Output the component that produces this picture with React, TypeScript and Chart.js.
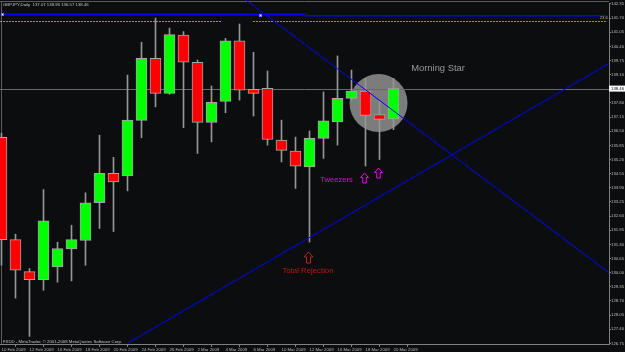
import React, { useEffect, useRef } from 'react';
import { Chart, registerables } from 'chart.js';

Chart.register(...registerables);

// ---------- data ----------
const symbol = 'GBPJPY,Daily';
const dates = [
  '10 Feb 2009', '11 Feb 2009', '12 Feb 2009', '13 Feb 2009', '16 Feb 2009', '17 Feb 2009',
  '18 Feb 2009', '19 Feb 2009', '20 Feb 2009', '23 Feb 2009', '24 Feb 2009', '25 Feb 2009',
  '26 Feb 2009', '27 Feb 2009', '2 Mar 2009', '3 Mar 2009', '4 Mar 2009', '5 Mar 2009',
  '6 Mar 2009', '9 Mar 2009', '10 Mar 2009', '11 Mar 2009', '12 Mar 2009', '13 Mar 2009',
  '16 Mar 2009', '17 Mar 2009', '18 Mar 2009', '19 Mar 2009', '20 Mar 2009',
];
const opens = [
  136.22, 131.52, 130.05, 129.68, 130.26, 131.09, 131.48, 133.22, 134.56, 134.45,
  137.0, 139.85, 138.24, 140.92, 139.67, 136.91, 137.87, 140.66, 138.43, 138.47,
  136.09, 135.59, 134.86, 136.17, 136.93, 138.01, 138.35, 137.27, 137.07,
];
const highs = [
  136.41, 131.77, 130.19, 133.82, 131.4, 132.18, 133.67, 136.32, 135.3, 139.08,
  140.59, 141.7, 141.24, 141.08, 139.77, 138.58, 140.77, 141.43, 140.13, 139.27,
  137.01, 136.23, 136.51, 138.31, 139.96, 139.31, 138.93, 137.89, 138.93,
];
const lows = [
  130.34, 128.83, 127.07, 129.19, 129.56, 129.62, 130.34, 132.03, 131.89, 133.76,
  136.2, 137.62, 138.2, 136.66, 135.48, 136.01, 137.35, 137.93, 137.2, 135.86,
  135.09, 133.87, 131.41, 135.25, 135.86, 137.93, 134.9, 135.2, 136.57,
];
const closes = [
  131.52, 130.11, 129.68, 132.38, 131.11, 131.52, 133.21, 134.56, 134.17, 137.01,
  139.85, 138.24, 140.94, 139.67, 136.91, 137.83, 140.66, 138.39, 138.24, 136.12,
  135.62, 134.9, 136.17, 136.98, 138.01, 138.35, 137.23, 137.04, 138.46,
];
const xLabelIndex = [0, 2, 4, 6, 8, 10, 12, 14, 16, 18, 20, 22, 24, 26, 28];
const yTicks = [
  126.75, 127.4, 128.05, 128.7, 129.35, 130.0, 130.65, 131.3, 131.95, 132.6, 133.25,
  133.9, 134.55, 135.2, 135.85, 136.5, 137.15, 137.8, 138.45, 139.1, 139.75, 140.4,
  141.05, 141.7, 142.35,
];
const lastPrice = 138.46;
const fibLevel = 141.553;
const fibLabel = '23.6';
const topLineLeft = 141.865;
const topLineRight = 141.81;
const trendDown = [{ x: 17.46, y: 142.53 }, { x: 43.39, y: 130.0 }];
const trendUp = [{ x: 9.04, y: 126.767 }, { x: 43.39, y: 139.613 }];
const circleAt = { x: 26.93, y: 137.8 };
const redArrow = { x: 21.93, y: 130.95 };
const magentaArrows = [{ x: 25.93, y: 134.58 }, { x: 26.93, y: 134.81 }];
const notes = [
  { text: 'Total Rejection', x: 21.89, y: 130.076, color: '#b81c1c', size: 7.8 },
  { text: 'Tweezers', x: 23.93, y: 134.26, color: '#d414d4', size: 7.6 },
  { text: 'Morning Star', x: 31.18, y: 139.41, color: '#9a9a9a', size: 9.4 },
];
const copyright = 'FXDD - MetaTrader, \u00A9 2001-2008 MetaQuotes Software Corp.';

// ---------- styles ----------
const BG = '#0b0d0f';
const AXIS = '#808080';
const SMALL_FONT = '4.3px "Liberation Sans", Arial, sans-serif';
const TXT = '#bdbdbd';

const overlay = {
  id: 'mt4overlay',
  beforeDraw(chart: any) {
    const { ctx, width, height } = chart;
    ctx.save();
    ctx.fillStyle = BG;
    ctx.fillRect(0, 0, width, height);
    ctx.restore();
  },
  beforeDatasetsDraw(chart: any) {
    const { ctx, chartArea: ca } = chart;
    const x = chart.scales.x;
    const y = chart.scales.y;
    ctx.save();
    ctx.beginPath();
    ctx.rect(0, 0, ca.right, ca.bottom);
    ctx.clip();
    // window borders
    ctx.strokeStyle = '#5c5c5c';
    ctx.lineWidth = 1;
    ctx.beginPath();
    ctx.moveTo(0, 1.5);
    ctx.lineTo(ca.right, 1.5);
    ctx.moveTo(1.5, 2);
    ctx.lineTo(1.5, ca.bottom);
    ctx.stroke();
    // ellipse highlight
    ctx.fillStyle = '#7c7c7c';
    ctx.beginPath();
    ctx.arc(x.getPixelForValue(circleAt.x), y.getPixelForValue(circleAt.y), 29, 0, Math.PI * 2);
    ctx.fill();
    // current price line
    const py = Math.round(y.getPixelForValue(lastPrice)) + 0.5;
    ctx.strokeStyle = '#6a6a6a';
    ctx.beginPath();
    ctx.moveTo(0, py);
    ctx.lineTo(ca.right, py);
    ctx.stroke();
    // fibo level (dotted)
    const fy = Math.round(y.getPixelForValue(fibLevel)) + 0.5;
    ctx.strokeStyle = '#a39a2a';
    ctx.setLineDash([2, 1]);
    ctx.beginPath();
    ctx.moveTo(0, fy);
    ctx.lineTo(x.getPixelForValue(15.75), fy);
    ctx.moveTo(x.getPixelForValue(17.96), fy);
    ctx.lineTo(ca.right - 2, fy);
    ctx.stroke();
    ctx.setLineDash([]);
    // top blue horizontal line
    ctx.strokeStyle = '#0000ff';
    ctx.lineWidth = 2;
    ctx.beginPath();
    ctx.moveTo(0, y.getPixelForValue(topLineLeft));
    ctx.lineTo(x.getPixelForValue(21.68), y.getPixelForValue(topLineLeft));
    ctx.stroke();
    ctx.lineWidth = 1.6;
    ctx.beginPath();
    ctx.moveTo(x.getPixelForValue(21.68), y.getPixelForValue(topLineRight));
    ctx.lineTo(ca.right - 2, y.getPixelForValue(topLineRight));
    ctx.stroke();
    ctx.restore();
  },
  afterDatasetsDraw(chart: any) {
    const { ctx, chartArea: ca } = chart;
    const x = chart.scales.x;
    const y = chart.scales.y;
    ctx.save();
    ctx.beginPath();
    ctx.rect(0, 0, ca.right, ca.bottom);
    ctx.clip();
    // trend lines
    ctx.strokeStyle = '#0000ff';
    ctx.lineWidth = 1;
    for (const ln of [trendDown, trendUp]) {
      ctx.beginPath();
      ctx.moveTo(x.getPixelForValue(ln[0].x), y.getPixelForValue(ln[0].y));
      ctx.lineTo(x.getPixelForValue(ln[1].x), y.getPixelForValue(ln[1].y));
      ctx.stroke();
    }
    // anchor markers
    const markers = [
      { px: x.getPixelForValue(18.43), py: y.getPixelForValue(topLineLeft) },
      { px: x.getPixelForValue(0.04), py: y.getPixelForValue(141.9) },
    ];
    for (const m of markers) {
      ctx.fillStyle = '#6f6fff';
      ctx.fillRect(Math.round(m.px) - 1, Math.round(m.py) - 1, 3, 3);
      ctx.fillStyle = '#ffffff';
      ctx.fillRect(Math.round(m.px), Math.round(m.py), 1, 1);
    }
    // arrows
    const drawArrow = (cx: number, ty: number, w: number, h: number, color: string) => {
      const hw = w / 2;
      const head = h * 0.45;
      const sw = w * 0.22;
      ctx.strokeStyle = color;
      ctx.lineWidth = 1;
      ctx.beginPath();
      ctx.moveTo(cx, ty);
      ctx.lineTo(cx + hw, ty + head);
      ctx.lineTo(cx + sw, ty + head);
      ctx.lineTo(cx + sw, ty + h);
      ctx.lineTo(cx - sw, ty + h);
      ctx.lineTo(cx - sw, ty + head);
      ctx.lineTo(cx - hw, ty + head);
      ctx.closePath();
      ctx.stroke();
    };
    drawArrow(x.getPixelForValue(redArrow.x), y.getPixelForValue(redArrow.y), 9, 11, '#c02020');
    for (const a of magentaArrows) {
      drawArrow(x.getPixelForValue(a.x), y.getPixelForValue(a.y), 8, 10, '#e010e0');
    }
    // text notes
    ctx.textAlign = 'center';
    ctx.textBaseline = 'middle';
    for (const n of notes) {
      ctx.fillStyle = n.color;
      ctx.font = `${n.size}px "Liberation Sans", Arial, sans-serif`;
      ctx.fillText(n.text, x.getPixelForValue(n.x), y.getPixelForValue(n.y));
    }
    ctx.restore();
  },
  afterDraw(chart: any) {
    const { ctx, chartArea: ca, width } = chart;
    const y = chart.scales.y;
    ctx.save();
    ctx.font = SMALL_FONT;
    ctx.textBaseline = 'middle';
    ctx.textAlign = 'left';
    // header
    const last = dates.length - 1;
    ctx.fillStyle = '#c4c4c4';
    ctx.fillText(
      `${symbol}  ${opens[last].toFixed(2)} ${highs[last].toFixed(2)} ${lows[last].toFixed(2)} ${closes[last].toFixed(2)}`,
      3, 5
    );
    // copyright
    ctx.fillText(copyright, 3, ca.bottom - 2.5);
    // fib label
    ctx.fillStyle = '#c8b82a';
    ctx.textAlign = 'right';
    ctx.fillText(fibLabel, ca.right - 1, y.getPixelForValue(fibLevel) - 3);
    // current price box
    const py = y.getPixelForValue(lastPrice);
    ctx.fillStyle = '#ffffff';
    ctx.fillRect(ca.right, py - 3, width - ca.right, 6);
    ctx.fillStyle = '#000000';
    ctx.textAlign = 'left';
    ctx.fillText(lastPrice.toFixed(2), ca.right + 2, py);
    ctx.restore();
  },
};

export default function App() {
  const canvasRef = useRef<HTMLCanvasElement | null>(null);

  useEffect(() => {
    document.body.style.margin = '0';
    document.body.style.background = BG;
    const canvas = canvasRef.current;
    if (!canvas) return;
    const bodies = dates.map((_, i) => ({ x: i, y: [opens[i], closes[i]] }));
    const wicks = dates.map((_, i) => ({ x: i, y: [lows[i], highs[i]] }));
    const chart = new Chart(canvas, {
      type: 'bar',
      data: {
        datasets: [
          {
            label: 'body',
            data: bodies as any,
            backgroundColor: dates.map((_, i) => (closes[i] >= opens[i] ? '#00ff00' : '#ff0000')),
            borderColor: '#a6a6a6',
            borderWidth: 1,
            borderSkipped: false,
            barThickness: 11,
            grouped: false,
            order: 0,
          } as any,
          {
            label: 'wick',
            data: wicks as any,
            backgroundColor: '#969696',
            borderWidth: 0,
            barThickness: 1,
            grouped: false,
            order: 1,
          } as any,
        ],
      },
      options: {
        animation: false,
        responsive: true,
        maintainAspectRatio: false,
        devicePixelRatio: 1,
        layout: { padding: { top: 3, left: 0, right: 0, bottom: 0 } },
        plugins: { legend: { display: false }, tooltip: { enabled: false } },
        scales: {
          x: {
            type: 'linear',
            min: -0.10714,
            max: 43.3929,
            offset: false,
            afterBuildTicks: (s: any) => {
              s.ticks = xLabelIndex.map((v) => ({ value: v }));
            },
            afterFit: (s: any) => {
              s.height = 8;
            },
            ticks: {
              autoSkip: false,
              maxRotation: 0,
              minRotation: 0,
              align: 'start',
              padding: 0,
              color: TXT,
              font: { family: '"Liberation Sans", Arial, sans-serif', size: 4.3 },
              callback: (v: any) => dates[v] ?? '',
            },
            grid: { drawOnChartArea: false, tickLength: 3, color: AXIS },
            border: { color: AXIS },
          },
          y: {
            type: 'linear',
            position: 'right',
            min: 126.721,
            max: 142.394,
            afterBuildTicks: (s: any) => {
              s.ticks = yTicks.map((v) => ({ value: v }));
            },
            afterFit: (s: any) => {
              s.width = 16;
            },
            ticks: {
              autoSkip: false,
              padding: 0,
              color: TXT,
              font: { family: '"Liberation Sans", Arial, sans-serif', size: 4.3 },
              callback: (v: any) => Number(v).toFixed(2),
            },
            grid: { drawOnChartArea: false, tickLength: 2, color: AXIS },
            border: { color: AXIS },
          },
        },
      } as any,
      plugins: [overlay as any],
    });
    return () => chart.destroy();
  }, []);

  return (
    <div style={{ width: 625, height: 352, position: 'relative', background: BG }}>
      <canvas ref={canvasRef} />
    </div>
  );
}
